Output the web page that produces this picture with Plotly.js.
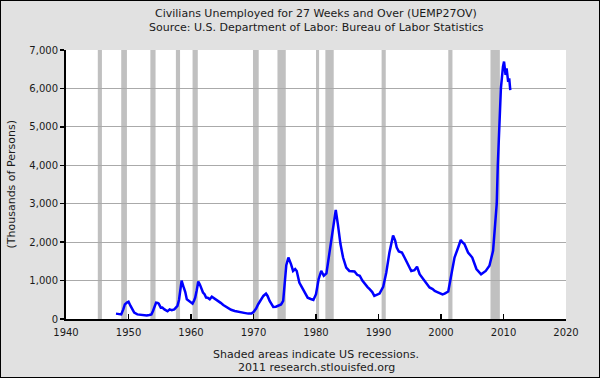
<!DOCTYPE html>
<html>
<head>
<meta charset="utf-8">
<script src="https://cdn.plot.ly/plotly-3.0.1.min.js"></script>
<style>
html,body{margin:0;padding:0;background:#e1e1e1;}
#wrap{width:600px;height:378px;box-sizing:border-box;border:1px solid #000;background:#e1e1e1;overflow:hidden;}
#chart{width:598px;height:376px;}
</style>
</head>
<body>
<div id="wrap"><div id="chart"></div></div>
<script>
const dates = ["1948-01","1948-07","1948-11","1949-03","1949-06","1949-10","1950-01","1950-05","1950-09","1950-12",
"1951-06","1951-12","1952-06","1952-12","1953-05","1953-09","1953-12","1954-03","1954-06","1954-09","1954-11",
"1955-03","1955-06","1955-10","1956-04","1956-08","1956-12","1957-05","1957-11","1958-02","1958-05","1958-07","1958-11",
"1959-02","1959-05","1959-09","1959-12","1960-04","1960-07","1960-09","1960-12","1961-03","1961-06","1961-09","1961-12",
"1962-03","1962-06","1962-09","1963-01","1963-05","1963-08","1964-01","1964-06","1964-10","1965-03","1965-08",
"1966-01","1966-06","1967-01","1967-07","1968-01","1968-07","1969-03","1969-09","1970-01","1970-06","1970-10",
"1971-03","1971-08","1972-01","1972-04","1972-08","1973-03","1973-08","1974-01","1974-06","1974-10","1975-01",
"1975-04","1975-08","1975-11","1976-01","1976-05","1976-09","1976-12","1977-05","1977-09","1978-03","1978-09",
"1979-03","1979-08","1980-01","1980-06","1980-11","1981-04","1981-09","1982-01","1982-06","1982-11","1983-03",
"1983-07","1983-12","1984-05","1984-11","1985-05","1985-10","1986-03","1986-08","1987-01","1987-06","1987-10",
"1988-04","1988-08","1989-01","1989-05","1989-10","1990-03","1990-10","1991-04","1991-10","1992-05","1992-09",
"1992-12","1993-04","1993-10","1994-03","1994-10","1995-04","1995-10","1996-03","1996-08","1997-05","1997-11",
"1998-03","1998-09","1999-01","1999-06","1999-10","2000-04","2000-08","2001-03","2001-09","2002-03","2002-10",
"2003-03","2003-06","2003-10","2004-05","2005-01","2005-05","2005-09","2006-06","2006-10","2007-03","2007-10",
"2008-05","2008-08","2008-12","2009-02","2009-04","2009-06","2009-08","2009-12","2010-02","2010-05","2010-07",
"2010-10","2010-12","2011-02"];
const values = [140,130,120,250,380,430,450,340,230,165,
120,110,97,90,105,120,210,330,425,420,400,
295,300,250,200,250,230,250,340,500,900,1000,820,
700,515,470,425,400,480,555,750,975,900,800,690,
645,560,555,515,580,555,500,470,420,365,320,
280,240,210,190,165,160,140,140,180,270,385,
500,600,660,600,470,315,320,340,380,470,1080,
1400,1600,1500,1430,1250,1300,1250,950,850,690,555,
520,495,645,1035,1250,1125,1185,1560,2040,2600,2840,
2470,1950,1600,1340,1250,1250,1235,1150,1125,1000,920,
830,775,700,600,620,660,835,1210,1730,2170,2040,
1860,1760,1730,1600,1385,1250,1270,1360,1165,1010,900,
820,780,730,700,670,640,660,715,1165,1600,1860,
2055,2000,1950,1730,1600,1450,1300,1165,1200,1250,1385,
1775,2300,3000,4000,4800,5500,6000,6565,6700,6350,6520,
6170,6260,5955];

const recStart = ["1945-02-01","1948-11-01","1953-07-01","1957-08-01","1960-04-01","1969-12-01","1973-11-01","1980-01-01","1981-07-01","1990-07-01","2001-03-01","2007-12-01"];
const recEnd   = ["1945-10-01","1949-10-01","1954-05-01","1958-04-01","1961-02-01","1970-11-01","1975-03-01","1980-07-01","1982-11-01","1991-03-01","2001-11-01","2009-06-01"];

const xTickVals = ["1940-01-01","1950-01-01","1960-01-01","1970-01-01","1980-01-01","1990-01-01","2000-01-01","2010-01-01","2020-01-01"];
const xTickText = ["1940","1950","1960","1970","1980","1990","2000","2010","2020"];
const yTickVals = [0,1000,2000,3000,4000,5000,6000,7000];
const yTickText = ["0","1,000","2,000","3,000","4,000","5,000","6,000","7,000"];

const titleLines = ["Civilians Unemployed for 27 Weeks and Over (UEMP27OV)","Source: U.S. Department of Labor: Bureau of Labor Statistics"];
const footerLines = ["Shaded areas indicate US recessions.","2011 research.stlouisfed.org"];
const yTitle = "(Thousands of Persons)";

const FONT = "DejaVu Sans, Verdana, sans-serif";
const TXT = "#1a1a1a";

const shapes = recStart.map((s,i)=>({
  type:"rect", xref:"x", yref:"paper", x0:s, x1:recEnd[i], y0:0, y1:1,
  fillcolor:"#c0c0c0", line:{width:0}, layer:"below"
}));

const trace = {
  x: dates, y: values, type:"scatter", mode:"lines",
  line:{color:"#0000ff", width:2.5}, hoverinfo:"skip"
};

function ann(text, x, y, extra){
  return Object.assign({text:text, xref:"paper", yref:"paper", x:x, y:y, xanchor:"center", yanchor:"middle",
    showarrow:false, font:{family:FONT,size:11,color:TXT}}, extra||{});
}

const layout = {
  width:598, height:376,
  paper_bgcolor:"#e1e1e1", plot_bgcolor:"#ffffff",
  margin:{l:65, r:33, t:49, b:58},
  showlegend:false,
  font:{family:FONT, size:10, color:TXT},
  xaxis:{type:"date", range:["1940-01-01","2020-01-01"], tickvals:xTickVals, ticktext:xTickText,
    showgrid:false, zeroline:false, showline:true, linecolor:"#000", linewidth:2,
    ticks:"inside", ticklen:5, tickcolor:"#000", tickwidth:1.5, ticklabelstandoff:3,
    tickfont:{family:FONT,size:10,color:TXT}, fixedrange:true},
  yaxis:{range:[0,7000], tickvals:yTickVals, ticktext:yTickText,
    showgrid:true, gridcolor:"#aaaaaa", gridwidth:1, zeroline:false, showline:true, linecolor:"#000", linewidth:2,
    ticks:"outside", ticklen:4, tickcolor:"#000", tickwidth:1.5,
    tickfont:{family:FONT,size:10,color:TXT}, fixedrange:true},
  shapes: shapes,
  annotations:[
    ann(titleLines[0], 0.5, 1.1375),
    ann(titleLines[1], 0.5, 1.0855),
    ann(footerLines[0], 0.5, -0.1338),
    ann(footerLines[1], 0.5, -0.182),
    ann(yTitle, -0.11, 0.5, {textangle:-90})
  ]
};

Plotly.newPlot("chart", [trace], layout, {staticPlot:true, displayModeBar:false});
</script>
</body>
</html>
